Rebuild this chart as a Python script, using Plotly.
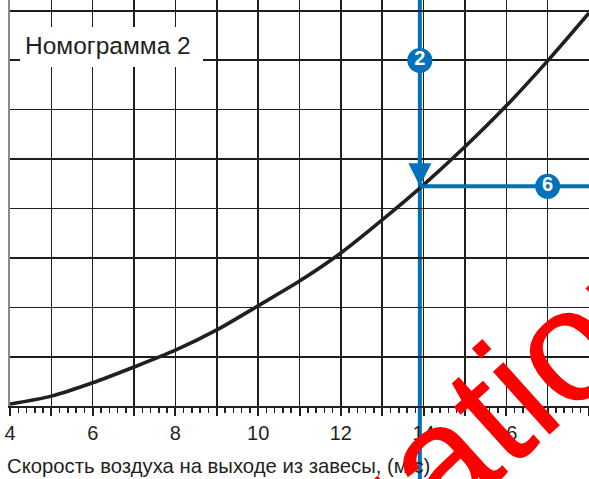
import plotly.graph_objects as go

# ---- data ----
SPEED = [4, 5, 6, 7, 8, 9, 10, 11, 12, 13, 14, 15, 16, 17, 18]
VALUE = [0.04, 0.2, 0.47, 0.79, 1.13, 1.54, 2.03, 2.53, 3.1, 3.77, 4.48, 5.25, 6.08, 6.99, 7.96]
X_TICKS = list(range(4, 19))
X_TICK_TEXT = [str(v) if v % 2 == 0 else "" for v in X_TICKS]

EX_SPEED = 13.91     # example: selected air speed
EX_VALUE = 4.45      # example: read-off value
MARK_X = [13.91, 17.0]
MARK_Y = [7.0, 4.45]
MARK_TEXT = ["2", "6"]

TITLE = "Номограмма 2"
X_TITLE = "Скорость воздуха на выходе из завесы, (м/с)"
WATERMARK = "Evaluation"

BLUE = "#0072bc"
INK = "#231f20"
GRID = "#1e1e1e"
FONT = "Liberation Sans, Arial, sans-serif"

fig = go.Figure()

fig.add_trace(go.Scatter(
    x=SPEED, y=VALUE, mode="lines",
    line=dict(color=INK, width=3.6, shape="spline", smoothing=0.8),
    hoverinfo="skip", showlegend=False))

fig.add_trace(go.Scatter(
    x=[EX_SPEED, max(SPEED)], y=[EX_VALUE, EX_VALUE], mode="lines",
    line=dict(color=BLUE, width=4), hoverinfo="skip", showlegend=False))

fig.add_shape(type="line", xref="x", yref="paper",
              x0=EX_SPEED, x1=EX_SPEED, y0=-0.3, y1=1.05,
              line=dict(color=BLUE, width=4), layer="between")

fig.add_annotation(x=EX_SPEED, y=EX_VALUE, xref="x", yref="y",
                   ax=0, ay=-30, showarrow=True, arrowhead=2,
                   arrowsize=1.15, arrowwidth=4, arrowcolor=BLUE, text="")

fig.add_trace(go.Scatter(
    x=MARK_X, y=MARK_Y, mode="markers+text",
    marker=dict(size=25, color=BLUE, line=dict(width=0)),
    text=MARK_TEXT, textposition="middle center",
    textfont=dict(color="white", size=20, family="Liberation Sans, Arial, sans-serif", weight="bold"),
    cliponaxis=False, hoverinfo="skip", showlegend=False))

# title box
fig.add_shape(type="rect", xref="paper", yref="paper",
              x0=0.0173, x1=0.3333, y0=0.835, y1=0.9335,
              fillcolor="white", line=dict(width=0), layer="above")
fig.add_annotation(xref="paper", yref="paper", x=0.170, y=0.889,
                   text=TITLE, showarrow=False, xanchor="center", yanchor="middle",
                   font=dict(family=FONT, size=24.5, color=INK))

fig.add_annotation(xref="paper", yref="paper", x=-0.008, y=-0.148,
                   text=X_TITLE, showarrow=False, xanchor="left", yanchor="middle",
                   font=dict(family=FONT, size=20.3, color=INK))

fig.add_annotation(xref="paper", yref="paper", x=0.649, y=-0.251,
                   text=WATERMARK, showarrow=False, xanchor="center", yanchor="middle",
                   textangle=-42,
                   font=dict(family="Liberation Sans, Arial, sans-serif", size=160, color="#ff0000"))

fig.update_xaxes(
    range=[4, 18], tickvals=X_TICKS, ticktext=X_TICK_TEXT,
    showgrid=True, gridcolor=GRID, gridwidth=1.5,
    showline=True, linecolor=INK, linewidth=2,
    ticks="outside", ticklen=8, tickwidth=2, tickcolor=INK,
    tickfont=dict(family=FONT, size=20, color=INK),
    minor=dict(dtick=0.2, ticks="outside", ticklen=5, tickwidth=1.5, tickcolor=INK, showgrid=False),
    zeroline=False, fixedrange=True)

fig.update_yaxes(
    range=[0, 8.223], tickmode="linear", tick0=1, dtick=2,
    showgrid=True, gridcolor=GRID, gridwidth=2.2,
    minor=dict(dtick=1, tick0=0, showgrid=True, gridcolor=GRID, gridwidth=1.3),
    showticklabels=False, ticks="",
    showline=True, linecolor="#8a8a8a", linewidth=2,
    zeroline=False, fixedrange=True)

fig.update_layout(
    width=589, height=479,
    margin=dict(l=10, r=0, t=0, b=73, pad=0),
    paper_bgcolor="white", plot_bgcolor="white",
    showlegend=False)

fig.write_html("out.html", config={"staticPlot": True},
               post_script="document.body.style.margin='0';document.body.style.padding='0';document.body.style.overflow='hidden';")
